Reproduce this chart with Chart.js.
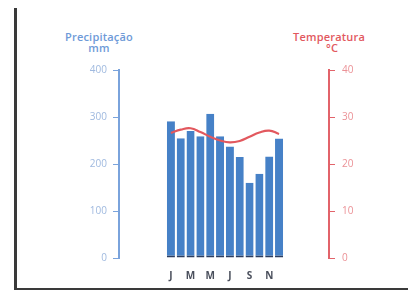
<!DOCTYPE html>
<html>
<head>
<meta charset="utf-8">
<script src="https://cdn.jsdelivr.net/npm/chart.js@4"></script>
<style>
  html, body { margin: 0; padding: 0; background: #fff; }
  #wrap { position: relative; width: 408px; height: 302px; overflow: hidden; }
  #frame { position: absolute; left: 14px; top: 8px; width: 400px; height: 280px;
           border-left: 3px solid #3a3a3a; border-bottom: 2px solid #3a3a3a; }
  .ttl { position: absolute; font-family: "Open Sans", sans-serif; font-size: 11px;
         font-weight: 600; text-align: center; line-height: 11px; letter-spacing: 0.2px; }
  #tP { left: 49px; top: 31px; width: 100px; color: #6e9ad8; }
  #tT { left: 279px; top: 31px; width: 100px; color: #e2585e; }
  canvas { position: absolute; left: 0; top: 0; }
</style>
</head>
<body>
<div id="wrap">
  <div id="frame"></div>
  <div class="ttl" id="tP">Precipitação<br>mm</div>
  <div class="ttl" id="tT">Temperatura<br>&nbsp;&nbsp;°C</div>
  <canvas id="chart" width="408" height="302"></canvas>
</div>
<script>
// months (initials), only every second one is labelled
const months = ['J', 'F', 'M', 'A', 'M', 'J', 'J', 'A', 'S', 'O', 'N', 'D']
// precipitation in mm
const precipitation = [291, 255, 270, 259, 307, 259, 237, 215, 160, 179, 216, 254]
// temperature in °C
const temperature = [26.6, 27.3, 27.6, 26.8, 25.8, 25.0, 24.6, 24.9, 25.8, 26.7, 27.1, 26.4]
const precipTicks = [0, 100, 200, 300, 400]
const tempTicks = [0, 10, 20, 30, 40]

const ctx = document.getElementById('chart')

const chart = new Chart(ctx, {
  type: 'bar',
  data: {
    datasets: [{
      type: 'line',
      label: 'Temperatura',
      data: temperature.map((t, i) => ({ x: i, y: t })),
      yAxisID: 'yT',
      borderColor: '#e2585e',
      borderWidth: 2.2,
      tension: 0.45,
      pointRadius: 0
    },
    {
      label: 'Precipitação',
      data: precipitation.map((p, i) => ({ x: i, y: p })),
      yAxisID: 'yP',
      backgroundColor: '#4681c7',
      borderColor: '#2b3d60',
      borderWidth: { top: 0, left: 0, right: 0, bottom: 2 },
      borderSkipped: false,
      categoryPercentage: 1,
      barPercentage: 0.82
    }]
  },
  options: {
    responsive: false,
    animation: false,
    plugins: { legend: { display: false }, tooltip: { enabled: false } },
    layout: { padding: { top: 70, left: 0, right: 0, bottom: 0 } },
    scales: {
      x: {
        type: 'linear',
        offset: false,
        min: -5.28, // leaves the empty space between the axes and the bars
        max: 16.08,
        afterBuildTicks: scale => {
          scale.ticks = months.map((m, i) => ({ value: i })).filter((t, i) => i % 2 === 0)
        },
        afterFit: scale => { scale.height = 44 },
        grid: { display: false },
        border: { display: false },
        ticks: {
          color: '#4a4f5c',
          padding: 4,
          font: { family: 'Open Sans', size: 10, weight: 'bold' },
          callback: v => months[v]
        }
      },
      yP: {
        position: 'left',
        min: 0,
        max: 400,
        afterBuildTicks: scale => { scale.ticks = precipTicks.map(v => ({ value: v })) },
        afterFit: scale => { scale.width = 119 },
        border: { color: '#7aa3dc', width: 2 },
        grid: { drawOnChartArea: false, tickLength: 6, color: '#7aa3dc' },
        ticks: {
          color: '#9fb9df',
          padding: 6,
          font: { family: 'Open Sans', size: 10 }
        }
      },
      yT: {
        position: 'right',
        min: 0,
        max: 40,
        afterBuildTicks: scale => { scale.ticks = tempTicks.map(v => ({ value: v })) },
        afterFit: scale => { scale.width = 79 },
        border: { color: '#e2636a', width: 2 },
        grid: { drawOnChartArea: false, tickLength: 6, color: '#e2636a' },
        ticks: {
          color: '#eb9196',
          padding: 7,
          font: { family: 'Open Sans', size: 10 }
        }
      }
    }
  }
})
</script>
</body>
</html>
